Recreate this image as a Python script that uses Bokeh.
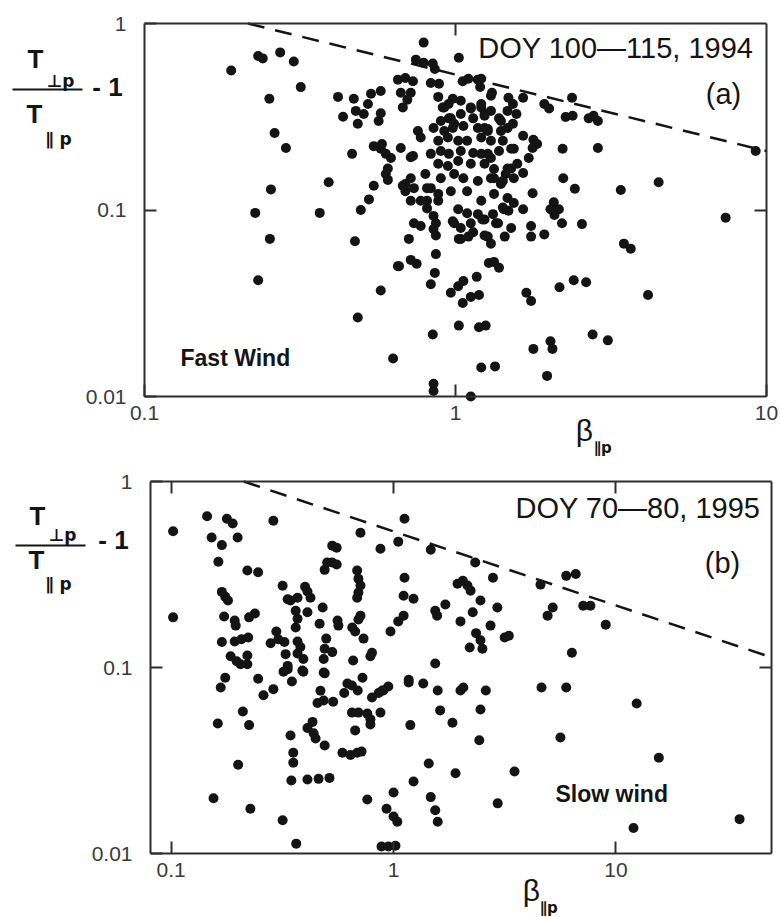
import math

from bokeh.embed import file_html
from bokeh.layouts import column
from bokeh.models import (Arrow, CustomJSTickFormatter, FixedTicker, Label,
                          LogAxis, Range1d)
from bokeh.plotting import figure
from bokeh.resources import INLINE

# ---------------------------------------------------------------------------
# Panel (a): fast wind, DOY 100-115, 1994
# ---------------------------------------------------------------------------
beta_a = [
    0.19, 0.232, 0.24, 0.273, 0.302, 0.318, 0.252, 0.262, 0.285, 0.255, 0.227, 0.253, 0.232,
    0.391, 0.366, 0.419, 0.435, 0.465, 0.471, 0.478, 0.507, 0.485, 0.535, 0.575, 0.523, 0.575,
    0.566, 0.546, 0.575, 0.597, 0.62, 0.597, 0.606, 0.546, 0.527, 0.496, 0.475, 0.575, 0.485,
    0.63, 0.653, 0.69, 0.73, 0.653, 0.79, 1.025, 0.746, 0.79, 0.845, 0.858, 0.833, 0.885,
    1.055, 1.10, 1.18, 1.20, 0.667, 0.718, 0.70, 0.677, 0.88, 0.98, 0.757, 0.773, 0.85, 0.92,
    0.952, 0.99, 1.04, 1.12, 0.718, 0.677, 0.718, 0.69, 0.833, 0.88, 0.81, 0.718,
    1.30, 1.48, 1.53, 1.65, 1.93, 2.0, 2.37, 2.26, 2.38, 2.68, 2.78, 2.87, 1.57, 1.65, 1.78,
    1.83, 1.77, 2.21, 2.87, 1.54, 1.72, 1.65, 2.22, 2.42, 3.40, 4.50, 9.23, 7.39, 1.77, 2.07,
    2.15, 2.08, 2.20, 2.55, 1.75, 1.75, 1.93, 1.54, 1.48, 1.44, 1.32, 1.35, 1.24, 1.30, 1.33,
    1.38, 1.04, 0.98, 1.12, 1.14, 1.04, 0.865, 0.865, 0.735, 0.773, 0.708, 0.865, 0.658,
    0.718, 0.75, 0.833, 0.858, 0.966, 1.02, 1.06, 1.055, 1.12, 1.17, 1.19, 1.69, 1.75, 2.16,
    2.40, 2.63, 4.16, 0.845, 1.025, 1.19, 1.25, 1.78, 2.02, 2.05, 2.76, 3.09, 1.21, 1.34, 1.97,
    0.85, 0.85, 1.12, 3.48, 3.66, 1.51, 1.43, 1.65, 1.24, 1.37, 2.02, 1.27, 0.85, 1.025, 0.99,
    1.10, 0.81, 0.85, 1.02, 1.09, 1.18, 1.22, 1.28, 1.21, 1.31, 1.40, 1.47, 1.30, 1.33, 1.40,
    1.51, 1.45, 1.42, 1.21, 1.24, 1.24, 1.27, 1.21, 1.21, 1.24,
    0.91, 0.95, 1.04, 1.12, 1.21, 1.30, 0.897, 0.966, 1.14, 1.24, 1.38, 1.47, 0.92, 0.98, 1.06,
    1.18, 1.27, 1.40, 1.53, 0.88, 0.945, 1.02, 1.09, 1.30, 1.42, 0.833, 0.897, 0.952, 1.04,
    1.14, 1.27, 1.38, 1.51, 0.88, 0.945, 1.02, 1.12, 1.33, 1.47, 1.58, 0.897, 0.99, 1.06, 1.18,
    1.30, 1.42, 1.54, 0.81, 0.88, 0.966, 1.09, 1.21, 1.33, 1.47, 0.735, 0.773, 0.73, 0.667,
    0.606, 0.58, 0.69, 0.80,
]
ratio_a = [
    0.56, 0.67, 0.65, 0.70, 0.625, 0.456, 0.395, 0.259, 0.215, 0.129, 0.0965, 0.070, 0.042,
    0.141, 0.0965, 0.404, 0.316, 0.20, 0.395, 0.34, 0.327, 0.29, 0.42, 0.435, 0.37, 0.33,
    0.30, 0.22, 0.213, 0.20, 0.19, 0.156, 0.145, 0.135, 0.114, 0.10, 0.068, 0.037, 0.0265,
    0.016, 0.50, 0.51, 0.49, 0.050, 0.79, 0.655, 0.64, 0.615, 0.61, 0.57, 0.48, 0.475,
    0.49, 0.505, 0.50, 0.457, 0.425, 0.425, 0.39, 0.355, 0.404, 0.395, 0.265, 0.245, 0.275, 0.355,
    0.31, 0.29, 0.327, 0.35, 0.192, 0.135, 0.148, 0.126, 0.131, 0.112, 0.112, 0.112,
    0.41, 0.40, 0.37, 0.40, 0.37, 0.35, 0.40, 0.315, 0.32, 0.31, 0.32, 0.30, 0.327, 0.25, 0.238,
    0.226, 0.215, 0.213, 0.215, 0.213, 0.19, 0.158, 0.148, 0.13, 0.128, 0.141, 0.207, 0.091, 0.123, 0.11,
    0.101, 0.094, 0.085, 0.084, 0.082, 0.072, 0.074, 0.109, 0.099, 0.072, 0.095, 0.085, 0.073, 0.066, 0.0527,
    0.049, 0.080, 0.087, 0.085, 0.076, 0.070, 0.085, 0.073, 0.085, 0.082, 0.070, 0.058, 0.050,
    0.054, 0.0515, 0.040, 0.046, 0.036, 0.039, 0.0416, 0.0317, 0.0342, 0.0438, 0.035, 0.036, 0.0325, 0.0385,
    0.042, 0.041, 0.035, 0.0215, 0.024, 0.0235, 0.024, 0.018, 0.0198, 0.018, 0.0215, 0.020, 0.0143, 0.0145, 0.0129,
    0.0117, 0.0107, 0.0100, 0.066, 0.062, 0.080, 0.101, 0.101, 0.089, 0.085, 0.101, 0.072, 0.079, 0.070, 0.085,
    0.072, 0.102, 0.093, 0.101, 0.096, 0.095, 0.089, 0.052, 0.505, 0.425, 0.30, 0.275, 0.19, 0.148, 0.138,
    0.167, 0.156, 0.103, 0.355, 0.327, 0.275, 0.265, 0.245, 0.20, 0.177,
    0.355, 0.37, 0.385, 0.355, 0.37, 0.34, 0.30, 0.31, 0.31, 0.32, 0.31, 0.34, 0.265, 0.275, 0.282,
    0.275, 0.272, 0.265, 0.29, 0.235, 0.245, 0.235, 0.235, 0.235, 0.235, 0.20, 0.207, 0.20, 0.207,
    0.202, 0.20, 0.207, 0.213, 0.177, 0.172, 0.183, 0.177, 0.166, 0.167, 0.177, 0.148, 0.156, 0.148, 0.143,
    0.148, 0.143, 0.148, 0.131, 0.122, 0.126, 0.126, 0.112, 0.122, 0.116, 0.131, 0.112, 0.195, 0.215,
    0.167, 0.226, 0.138, 0.156,
]

# Marginal-stability threshold drawn as a dashed line (end points)
bound_beta_a = [0.215, 10.0]
bound_ratio_a = [1.0, 0.207]

# ---------------------------------------------------------------------------
# Panel (b): slow wind, DOY 70-80, 1995
# ---------------------------------------------------------------------------
beta_b = [
    0.102, 0.102, 0.145, 0.178, 0.189, 0.288, 0.152, 0.169, 0.199, 0.163, 0.22, 0.246, 0.317,
    0.169, 0.175, 0.18, 0.173, 0.193, 0.195, 0.224, 0.238, 0.169, 0.193, 0.207, 0.222, 0.185,
    0.197, 0.22, 0.22, 0.205, 0.246, 0.175, 0.167, 0.21, 0.162, 0.224, 0.20, 0.155, 0.227,
    0.317, 0.365, 0.26, 0.288, 0.40, 0.41, 0.423, 0.37, 0.344, 0.334, 0.48, 0.363, 0.37, 0.363,
    0.41, 0.465, 0.56, 0.565, 0.652, 0.672, 0.695, 0.71, 0.733, 0.297, 0.303, 0.28, 0.323,
    0.37, 0.381, 0.37, 0.393, 0.389, 0.327, 0.334, 0.32, 0.349, 0.498, 0.49, 0.53, 0.485,
    0.49, 0.469, 0.485, 0.658, 0.787, 0.80, 0.725, 0.62, 0.65, 0.69, 0.80, 0.89, 0.947, 0.65,
    0.695, 0.762, 0.787, 0.787, 0.873, 0.672, 0.455, 0.535, 0.432, 0.41, 0.437, 0.446, 0.344,
    0.49, 0.589, 0.64, 0.686, 0.718, 0.354, 0.354, 0.347, 0.41, 0.46, 0.515, 0.762, 0.93, 1.0,
    1.04, 1.0, 0.883, 0.947, 1.02, 0.53, 0.555, 0.503, 0.53, 0.555, 0.49, 0.71, 0.873, 0.686,
    0.695, 0.71, 0.695, 0.686, 1.12, 1.05, 1.47, 1.12, 1.11, 1.23, 1.54, 1.71, 1.57, 1.11, 1.05,
    0.969, 1.94, 2.0, 1.54, 2.33, 2.8, 2.05, 2.15, 2.22, 4.58, 5.98, 6.6, 2.46, 2.93, 2.27, 2.73,
    2.35, 2.46, 2.51, 2.2, 3.16, 3.3, 5.2, 4.93, 7.13, 7.68, 9.0, 6.34, 0.90, 1.17, 1.36, 1.58,
    2.0, 2.06, 2.6, 4.63, 5.98, 12.4, 1.62, 2.46, 1.19, 1.84, 2.43, 5.63, 15.6, 1.44, 1.9, 3.5,
    1.23, 1.47, 1.54, 1.58, 2.94, 12.0, 36.0, 0.393, 0.485, 0.60, 1.17, 0.334, 0.857,
]
ratio_b = [
    0.54, 0.186, 0.65, 0.63, 0.594, 0.615, 0.50, 0.455, 0.50, 0.37, 0.332, 0.325, 0.275,
    0.255, 0.24, 0.229, 0.188, 0.179, 0.168, 0.186, 0.195, 0.137, 0.138, 0.142, 0.145, 0.115,
    0.108, 0.116, 0.104, 0.104, 0.087, 0.088, 0.078, 0.058, 0.05, 0.049, 0.030, 0.0198, 0.0174,
    0.0151, 0.0113, 0.071, 0.0765, 0.272, 0.256, 0.237, 0.237, 0.229, 0.233, 0.21, 0.202, 0.183, 0.164,
    0.198, 0.172, 0.179, 0.168, 0.164, 0.156, 0.181, 0.19, 0.143, 0.156, 0.142, 0.135, 0.137,
    0.138, 0.129, 0.119, 0.111, 0.0964, 0.118, 0.102, 0.095, 0.084, 0.143, 0.126, 0.121, 0.111,
    0.093, 0.075, 0.0665, 0.109, 0.115, 0.12, 0.088, 0.082, 0.08, 0.0752, 0.069, 0.0752, 0.079, 0.0572,
    0.0572, 0.0565, 0.0527, 0.0494, 0.0572, 0.0459, 0.0645, 0.0655, 0.051, 0.0473, 0.0443, 0.0415, 0.0431,
    0.0381, 0.0348, 0.0339, 0.0348, 0.0353, 0.0348, 0.0308, 0.0247, 0.0250, 0.0252, 0.0255, 0.0195, 0.0174, 0.0158,
    0.0148, 0.0213, 0.0109, 0.0109, 0.011, 0.452, 0.44, 0.367, 0.367, 0.358, 0.335, 0.53, 0.435, 0.332,
    0.30, 0.276, 0.253, 0.237, 0.63, 0.475, 0.43, 0.304, 0.243, 0.234, 0.202, 0.218, 0.19, 0.19, 0.177,
    0.156, 0.282, 0.177, 0.105, 0.367, 0.304, 0.293, 0.276, 0.259, 0.279, 0.311, 0.318, 0.229, 0.21, 0.198, 0.168,
    0.153, 0.14, 0.126, 0.128, 0.145, 0.148, 0.21, 0.19, 0.215, 0.215, 0.17, 0.12, 0.0752, 0.083, 0.082, 0.0752,
    0.0752, 0.078, 0.0752, 0.078, 0.078, 0.064, 0.0588, 0.0595, 0.049, 0.0505, 0.0406, 0.042, 0.0327, 0.0305, 0.027, 0.0276,
    0.0244, 0.0201, 0.0171, 0.0148, 0.0186, 0.0137, 0.0153, 0.095, 0.094, 0.073, 0.086, 0.098, 0.073,
]

bound_beta_b = [0.212, 50.0]
bound_ratio_b = [1.0, 0.1135]

x_ticks_a = [0.1, 1, 10]
x_ticks_b = [0.1, 1, 10]
y_ticks = [0.01, 0.1, 1]

INK = "#141414"
FRAME = "#2e2e2e"
SANS = "Liberation Sans"
SYM = "DejaVu Sans"
WIDTH = 780


def style_axis(ax, ticks, labelled, standoff=8):
    ax.ticker = FixedTicker(ticks=ticks)
    ax.major_tick_in = 12
    ax.major_tick_out = 0
    ax.minor_tick_line_color = None
    ax.major_tick_line_color = FRAME
    ax.major_tick_line_width = 2
    ax.axis_line_color = FRAME
    ax.axis_line_width = 2
    if labelled:
        ax.formatter = CustomJSTickFormatter(code="return tick.toString();")
        ax.major_label_text_font = SANS
        ax.major_label_text_font_size = "21px"
        ax.major_label_text_color = "#3a3a3a"
        ax.major_label_standoff = standoff
    else:
        # frame-side axes only carry tick marks
        ax.formatter = CustomJSTickFormatter(code="return '';")
        ax.major_label_text_font_size = "2px"
        ax.major_label_text_color = None
        ax.major_label_standoff = 0


def make_panel(beta, ratio, bound_beta, bound_ratio, xb, x_ticks, top_ticks,
               box, height, texts, bar):
    """One log-log panel. `box` = (left, top, width, height) of the axes box
    in canvas pixels; the canvas itself is the plotting frame, so the texts
    around the box are drawn inside the same frame."""
    left, top, bw, bh = box
    lx0, lx1 = math.log10(xb[0]), math.log10(xb[1])
    ly0, ly1 = -2.0, 0.0
    kx = (lx1 - lx0) / bw
    ky = (ly1 - ly0) / bh
    fx0 = lx0 - left * kx
    fx1 = lx1 + (WIDTH - left - bw) * kx
    fy0 = ly0 - (height - top - bh) * ky
    fy1 = ly1 + top * ky

    p = figure(
        x_axis_type="log", y_axis_type="log",
        x_range=Range1d(10 ** fx0, 10 ** fx1), y_range=Range1d(10 ** fy0, 10 ** fy1),
        frame_width=WIDTH, frame_height=height, min_border=0,
        title=None, output_backend="svg", toolbar_location=None,
        background_fill_color="white", border_fill_color="white",
    )
    p.grid.visible = False
    p.outline_line_color = None

    xlo, xhi = 10 ** lx0, 10 ** lx1
    bottom_ax, left_ax = p.xaxis[0], p.yaxis[0]
    style_axis(bottom_ax, x_ticks, True, standoff=9)
    style_axis(left_ax, y_ticks, True, standoff=18)
    top_ax = LogAxis()
    style_axis(top_ax, top_ticks, False)
    p.add_layout(top_ax, "above")
    right_ax = LogAxis()
    style_axis(right_ax, [0.1], False)
    p.add_layout(right_ax, "right")

    bottom_ax.fixed_location, top_ax.fixed_location = 0.01, 1.0
    left_ax.fixed_location, right_ax.fixed_location = xlo, xhi
    for ax in (bottom_ax, top_ax):
        ax.bounds = (xlo, xhi)
    for ax in (left_ax, right_ax):
        ax.bounds = (0.01, 1.0)

    p.line(bound_beta, bound_ratio, line_color=INK, line_width=2.5, line_dash="17 11")
    p.scatter(beta, ratio, size=10, fill_color=INK, line_color=None)

    def at(px, py):
        return 10 ** (fx0 + px * kx), 10 ** (fy0 + (height - py) * ky)

    for px, py, text, font, size, style, align in texts:
        x, y = at(px, py)
        p.add_layout(Label(
            x=x, y=y, text=text, text_font=font, text_font_size=f"{size}px",
            text_font_style=style, text_align=align, text_baseline="middle",
            text_color=INK,
        ))

    (bx0, by), (bx1, _) = bar
    xs, ys = at(bx0, by)
    xe, ye = at(bx1, by)
    p.add_layout(Arrow(x_start=xs, y_start=ys, x_end=xe, y_end=ye, start=None, end=None,
                       line_color=INK, line_width=2))
    return p


texts_a = [
    (35, 58, "T", SANS, 26, "bold", "center"),
    (60, 80, "⊥p", SYM, 17, "bold", "center"),
    (34, 113, "T", SANS, 26, "bold", "center"),
    (58, 138, "∥ p", SYM, 17, "bold", "center"),
    (107, 86, "- 1", SANS, 26, "bold", "center"),
    (584, 430, "β", SANS, 30, "normal", "center"),
    (602, 447, "∥p", SYM, 15, "bold", "center"),
    (753, 47, "DOY 100—115, 1994", SANS, 29, "normal", "right"),
    (723, 93, "(a)", SANS, 29, "normal", "center"),
    (180, 357, "Fast Wind", SANS, 23, "bold", "left"),
]
texts_b = [
    (37, 57, "T", SANS, 26, "bold", "center"),
    (62, 76, "⊥p", SYM, 17, "bold", "center"),
    (36, 101, "T", SANS, 26, "bold", "center"),
    (58, 125, "∥ p", SYM, 17, "bold", "center"),
    (113, 81, "- 1", SANS, 26, "bold", "center"),
    (531, 432, "β", SANS, 30, "normal", "center"),
    (548, 449, "∥p", SYM, 15, "bold", "center"),
    (760, 49, "DOY 70—80, 1995", SANS, 29, "normal", "right"),
    (722, 104, "(b)", SANS, 29, "normal", "center"),
    (555, 335, "Slow wind", SANS, 23, "bold", "left"),
]

panel_a = make_panel(beta_a, ratio_a, bound_beta_a, bound_ratio_a, (0.1, 10), x_ticks_a, [1],
                     box=(144, 23, 622, 373), height=458,
                     texts=texts_a, bar=((12, 89), (82, 89)))
panel_b = make_panel(beta_b, ratio_b, bound_beta_b, bound_ratio_b, (0.0807, 50.1), x_ticks_b,
                     x_ticks_b, box=(150, 23, 621, 372), height=459,
                     texts=texts_b, bar=((15, 87), (85, 87)))

layout = column(panel_a, panel_b, spacing=0)
with open("out.html", "w") as f:
    f.write(file_html(layout, INLINE))
